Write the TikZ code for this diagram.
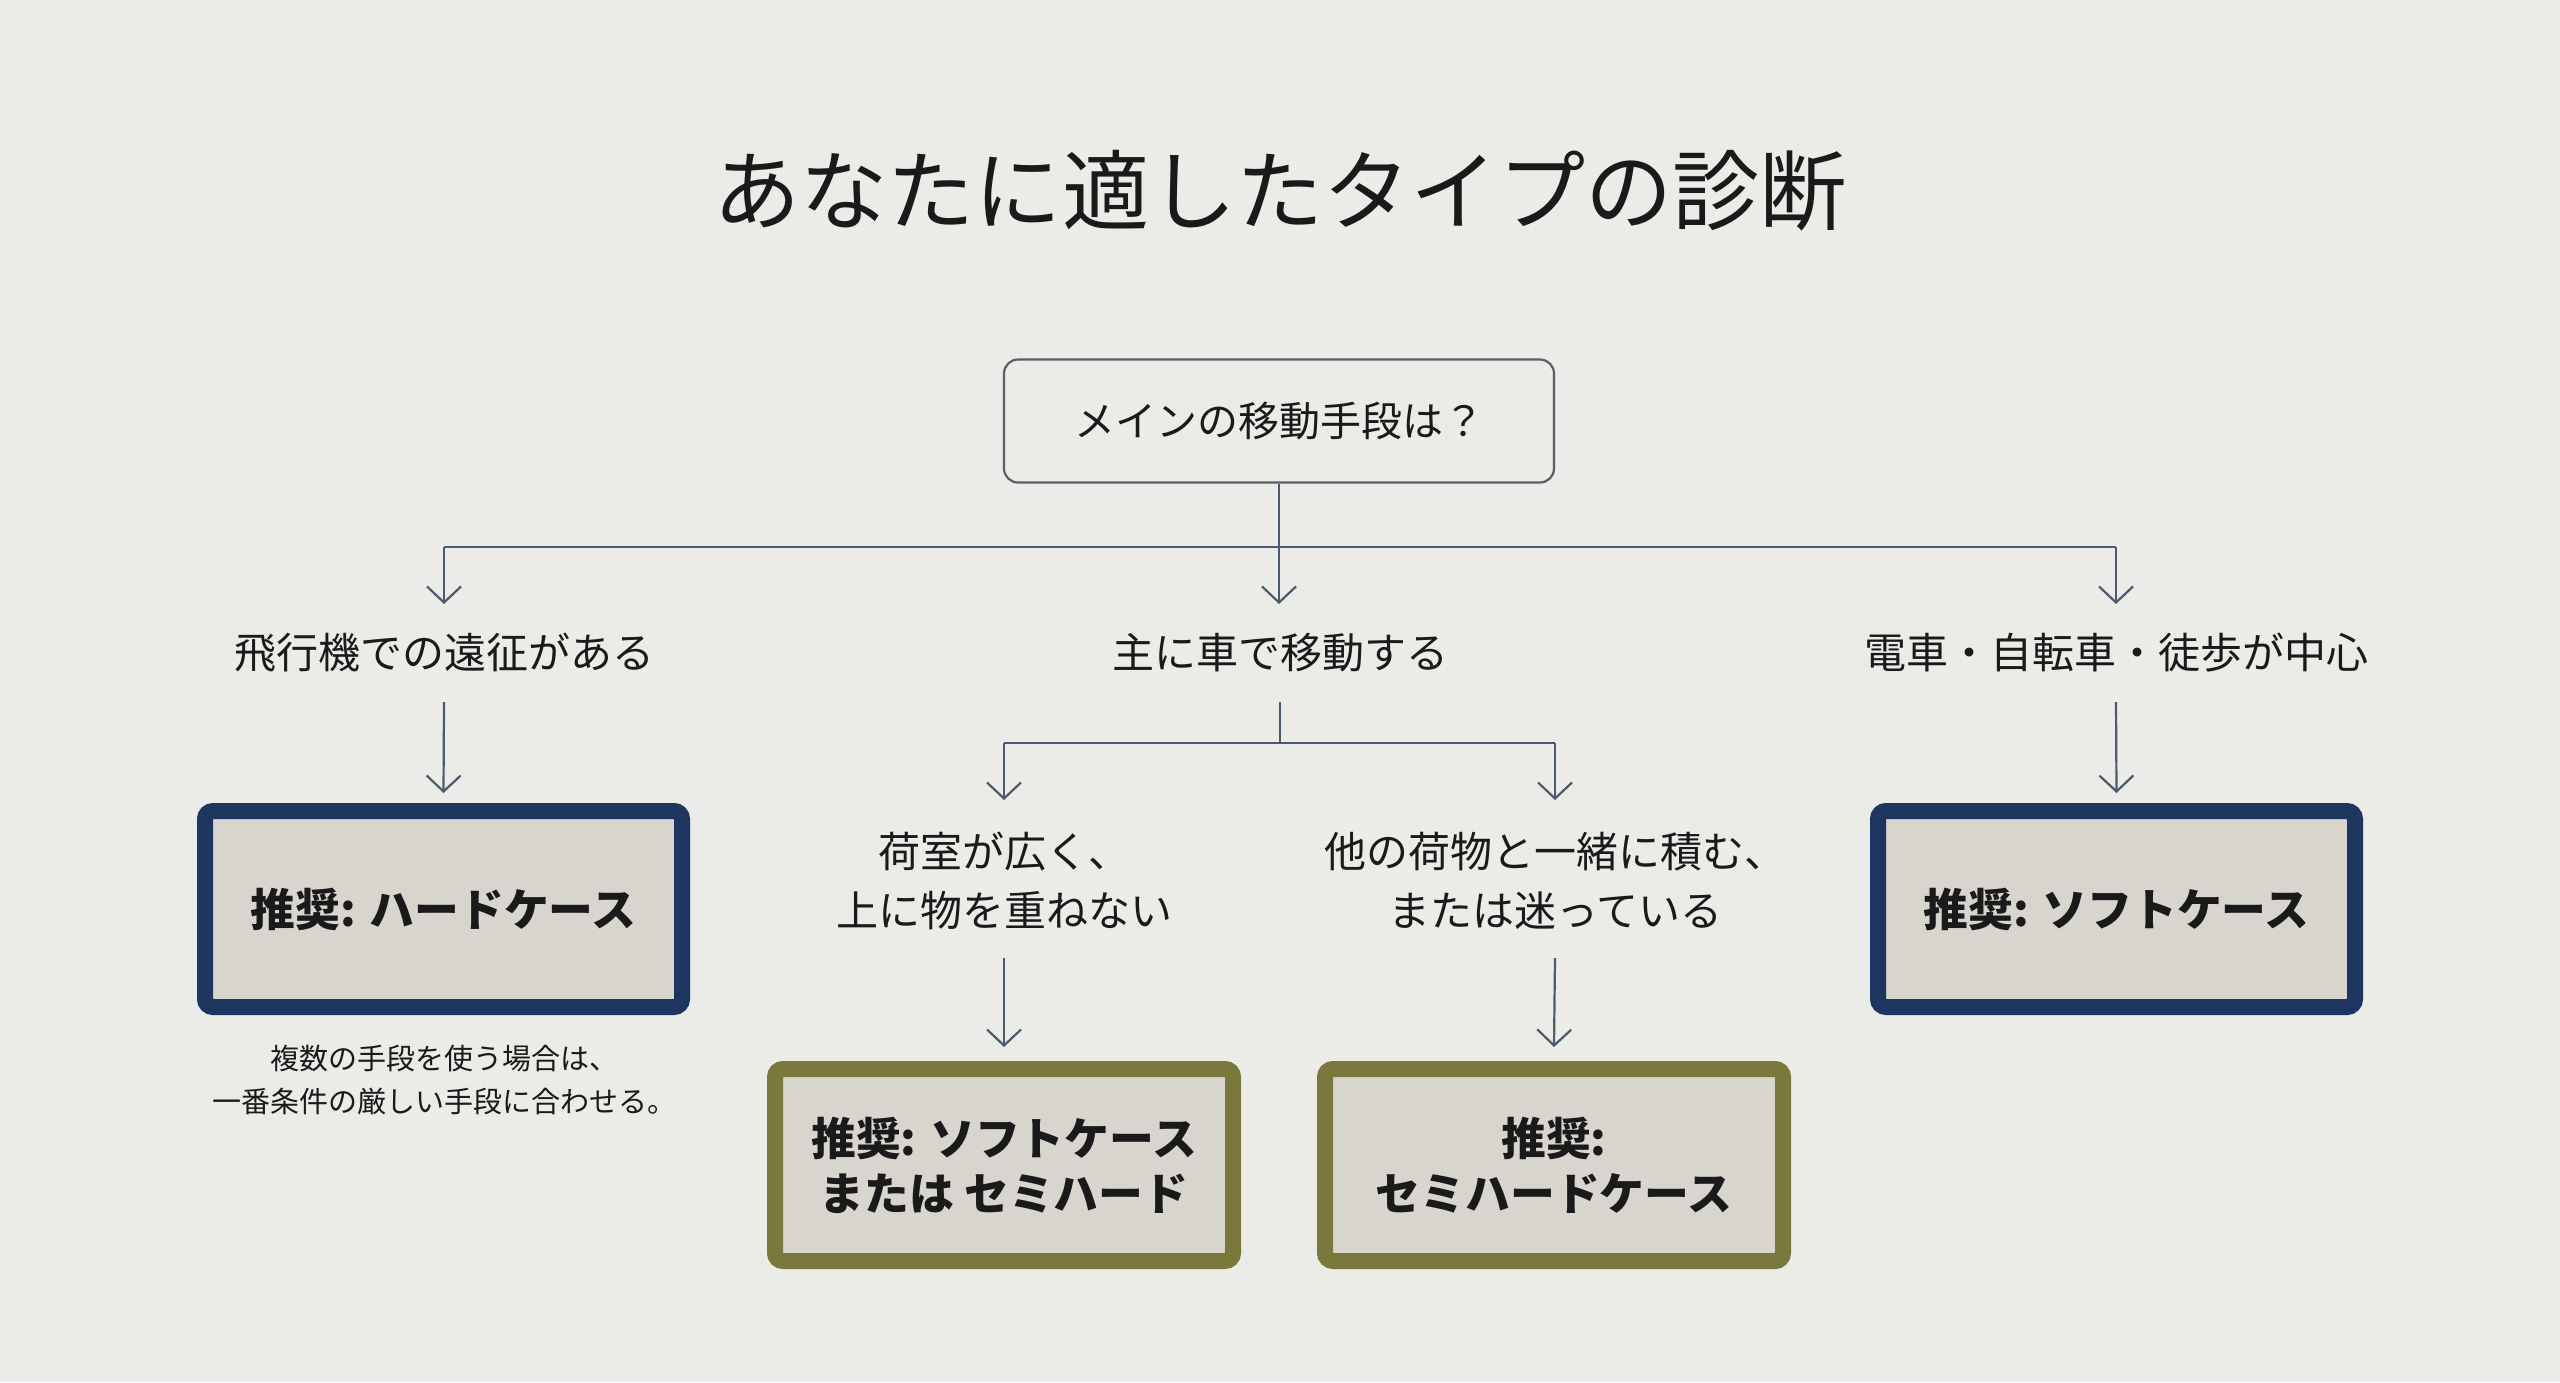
\documentclass[tikz,border=0pt]{standalone}
\usepackage{fontspec}
\setmainfont{Noto Sans CJK JP}
\usetikzlibrary{arrows.meta}
\definecolor{bgc}{HTML}{EBEBE7}
\definecolor{linec}{HTML}{4C5A6E}
\definecolor{navy}{HTML}{1E3560}
\definecolor{olive}{HTML}{7B783E}
\definecolor{fillc}{HTML}{D8D5CE}
\definecolor{txt}{HTML}{1A1A1A}
\definecolor{qbord}{HTML}{5A6068}
\tikzset{
  conn/.style={draw=linec, line width=1.1pt},
  arr/.style={conn, -{Straight Barb[length=8pt,width=17pt,line width=1.1pt]}},
  qlabel/.style={text=txt, align=center, inner sep=0pt, font=\fontsize{21}{29.5}\selectfont},
  recbox/.style={rounded corners=4pt, line width=8pt, fill=fillc, text=txt, align=center,
    minimum width=238.5pt, minimum height=98pt, inner sep=0pt,
    font=\bfseries\fontsize{22.4}{27.5}\selectfont},
  hardbox/.style={recbox, draw=navy},
  midbox/.style={recbox, draw=olive, minimum width=229pt, minimum height=96pt},
}
\begin{document}
\begin{tikzpicture}[x=0.5pt, y=-0.5pt]
\useasboundingbox[fill=bgc] (0,0) rectangle (2560,1382);
% title
\node[text=txt, inner sep=0pt, font=\fontsize{43.6}{50}\selectfont] (title) at (1280,191) {あなたに適したタイプの診断};
% question
\node[draw=qbord, line width=1.1pt, rounded corners=7pt, fill=bgc, text=txt,
  minimum width=275pt, minimum height=61.5pt, inner sep=0pt,
  font=\fontsize{20.5}{24}\selectfont] (q) at (1279,421) {メインの移動手段は？};
% junction coordinates
\coordinate (j0) at (1279,547);
\coordinate (jL) at (444,547);
\coordinate (jR) at (2116,547);
\coordinate (tL) at (444,604);
\coordinate (tC) at (1279,604);
\coordinate (tR) at (2116,604);
\draw[conn] (q.south) -- (j0);
\draw[conn] (jL) -- (jR);
\draw[arr] (jL) -- (tL);
\draw[arr] (j0) -- (tC);
\draw[arr] (jR) -- (tR);
% level 2 labels
\node[qlabel] (aL) at (444,653) {飛行機での遠征がある};
\node[qlabel] (aC) at (1280,653) {主に車で移動する};
\node[qlabel] (aR) at (2116,653) {電車・自転車・徒歩が中心};
% result boxes top
\node[hardbox] (bL) at (443.5,909) {推奨: ハードケース};
\node[hardbox] (bR) at (2116.5,909) {推奨: ソフトケース};
\coordinate (sL) at (444,702);
\coordinate (sR) at (2116,702);
\draw[arr] (sL) -- ([yshift=5pt]bL.north);
\draw[arr] (sR) -- ([yshift=5pt]bR.north);
% note
\node[text=txt, align=center, inner sep=0pt, font=\fontsize{14.5}{21.5}\selectfont] (note) at (444,1080)
  {複数の手段を使う場合は、\\一番条件の厳しい手段に合わせる。};
% center branch
\coordinate (sC) at (1280,702);
\coordinate (jC) at (1280,743);
\coordinate (jCL) at (1004,743);
\coordinate (jCR) at (1555,743);
\coordinate (tCL) at (1004,800);
\coordinate (tCR) at (1555,800);
\draw[conn] (sC) -- (jC);
\draw[conn] (jCL) -- (jCR);
\draw[arr] (jCL) -- (tCL);
\draw[arr] (jCR) -- (tCR);
% level 3 labels
\node[qlabel] (cL) at (1004,881) {荷室が広く、\\上に物を重ねない};
\node[qlabel] (cR) at (1555,881) {他の荷物と一緒に積む、\\または迷っている};
% bottom boxes
\node[midbox] (dL) at (1004,1165) {推奨: ソフトケース\\または セミハード};
\node[midbox] (dR) at (1554,1165) {推奨:\\セミハードケース};
\coordinate (uL) at (1004,958);
\coordinate (uR) at (1555,958);
\draw[arr] (uL) -- ([yshift=7pt]dL.north);
\draw[arr] (uR) -- ([yshift=7pt]dR.north);
\end{tikzpicture}
\end{document}
